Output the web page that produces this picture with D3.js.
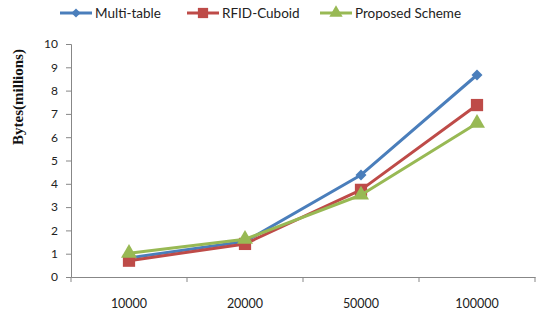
<!DOCTYPE html>
<html>
<head>
<meta charset="utf-8">
<script src="https://cdn.jsdelivr.net/npm/d3@7"></script>
<style>
  body { margin: 0; background: #fff; }
  svg { display: block; }
  .tick text { font-family: Lato, "Open Sans", sans-serif; font-size: 12px; fill: #222; }
</style>
</head>
<body>
<svg id="chart" width="536" height="315"></svg>
<script>
// data
var categories = ["10000", "20000", "50000", "100000"];
var multiTable = [0.82, 1.52, 4.38, 8.67];
var rfidCuboid = [0.70, 1.42, 3.74, 7.38];
var proposed   = [1.02, 1.62, 3.52, 6.60];
var yTicks = [0, 1, 2, 3, 4, 5, 6, 7, 8, 9, 10];

// diamond = square turned 45 degrees
var series = [
    { name: "Multi-table", values: multiTable, color: "#4a7ebb", symbol: d3.symbolSquare, size: 60, rot: 45 },
    { name: "RFID-Cuboid", values: rfidCuboid, color: "#be4b48", symbol: d3.symbolSquare, size: 150, rot: 0 },
    { name: "Proposed Scheme", values: proposed, color: "#98b954", symbol: d3.symbolTriangle, size: 110, rot: 0 }
];

var svg = d3.select("#chart");
var margin = { left: 71, right: 0, top: 44, bottom: 38 };
var width = 536, height = 315;

var x = d3.scaleBand().domain(categories).range([margin.left, width - 1]);
var y = d3.scaleLinear().domain([0, 10]).range([height - margin.bottom, margin.top]);

// y axis
var yAxis = svg.append("g")
    .attr("transform", "translate(" + margin.left + ",0)")
    .call(d3.axisLeft(y).tickValues(yTicks).tickSize(5).tickPadding(8));
yAxis.select(".domain").attr("stroke", "#878787");
yAxis.selectAll(".tick line").attr("stroke", "#878787");

// x axis - ticks at band edges
var xAxis = svg.append("g")
    .attr("transform", "translate(0," + y(0) + ")")
    .call(d3.axisBottom(x).tickSize(0).tickPadding(22));
xAxis.select(".domain").attr("stroke", "#878787");
xAxis.selectAll(".tick text").style("font-size", "12.5px");
var edges = categories.map(function (c) { return x(c); }).concat([x(categories[3]) + x.bandwidth()]);
xAxis.selectAll("line.edge")
    .data(edges)
    .enter().append("line")
    .attr("class", "edge")
    .attr("x1", function (d) { return d; })
    .attr("x2", function (d) { return d; })
    .attr("y1", 0).attr("y2", 5)
    .attr("stroke", "#878787");

// y label
svg.append("text")
    .attr("transform", "translate(23,97) rotate(-90)")
    .attr("text-anchor", "middle")
    .style("font-family", "'Liberation Serif', serif")
    .style("font-weight", "bold")
    .style("font-size", "15px")
    .attr("fill", "#111")
    .text("Bytes(millions)");

var line = d3.line()
    .x(function (d, i) { return x(categories[i]) + x.bandwidth() / 2; })
    .y(function (d) { return y(d); });

series.forEach(function (s) {
    svg.append("path")
        .datum(s.values)
        .attr("fill", "none")
        .attr("stroke", s.color)
        .attr("stroke-width", 3)
        .attr("stroke-linejoin", "round")
        .attr("d", line);

    svg.selectAll(null)
        .data(s.values)
        .enter().append("path")
        .attr("d", d3.symbol().type(s.symbol).size(s.size))
        .attr("fill", s.color)
        .attr("transform", function (d, i) {
            return "translate(" + (x(categories[i]) + x.bandwidth() / 2) + "," + y(d) + ") rotate(" + s.rot + ")";
        });
});

// legend
var legendX = [60, 187, 320];
var legend = svg.append("g").attr("class", "legend");
series.forEach(function (s, i) {
    var g = legend.append("g").attr("transform", "translate(" + legendX[i] + ",13)");
    g.append("line")
        .attr("x1", 0).attr("x2", 32)
        .attr("stroke", s.color).attr("stroke-width", 3);
    g.append("path")
        .attr("d", d3.symbol().type(s.symbol).size(s.size * 0.7))
        .attr("transform", "translate(16,0) rotate(" + s.rot + ")")
        .attr("fill", s.color);
    g.append("text")
        .attr("x", 35)
        .attr("dy", "0.35em")
        .style("font-family", "Lato, 'Open Sans', sans-serif")
        .style("font-size", "13.5px")
        .attr("fill", "#222")
        .text(s.name);
});
</script>
</body>
</html>
